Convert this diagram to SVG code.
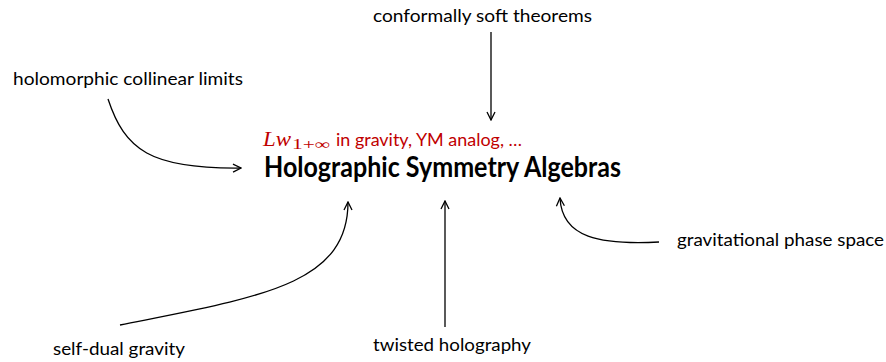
<svg xmlns="http://www.w3.org/2000/svg" width="886" height="362" viewBox="0 0 886 362">
<defs>
<style>
.lbl{font-family:Lato,"Open Sans","Liberation Sans",sans-serif;font-size:18px;fill:#000}
.title{font-family:Lato,"Open Sans","Liberation Sans",sans-serif;font-size:28px;font-weight:bold;fill:#000}
.red{font-family:Lato,"Open Sans","Liberation Sans",sans-serif;font-size:18px;fill:#C00000}
.math{font-family:"Liberation Serif","DejaVu Serif",serif;font-style:italic;font-size:20px;fill:#C00000}
.sub{font-family:"Liberation Serif","DejaVu Serif",serif;font-size:14px;fill:#C00000}
.conn{fill:none;stroke:#000;stroke-width:1.3}
</style>
<marker id="arr" viewBox="0 0 10 10" refX="9" refY="5" markerWidth="10" markerHeight="10" markerUnits="userSpaceOnUse" orient="auto">
<path d="M1,1 L9,5 L1,9" fill="none" stroke="#000" stroke-width="1.3"/>
</marker>
</defs>
<rect width="886" height="362" fill="#fff"/>
<g id="center">
<text class="math" x="263" y="146" textLength="28" lengthAdjust="spacingAndGlyphs">Lw</text>
<text class="sub" x="292" y="149" textLength="38" lengthAdjust="spacingAndGlyphs">1+∞</text>
<text class="red" x="336" y="146" textLength="186" lengthAdjust="spacingAndGlyphs">in gravity, YM analog, …</text>
<text class="title" x="264" y="177" textLength="357" lengthAdjust="spacingAndGlyphs">Holographic Symmetry Algebras</text>
</g>
<g id="n-soft"><text class="lbl" x="373" y="22" textLength="219" lengthAdjust="spacingAndGlyphs">conformally soft theorems</text></g>
<g id="n-holo"><text class="lbl" x="13" y="85" textLength="230" lengthAdjust="spacingAndGlyphs">holomorphic collinear limits</text></g>
<g id="n-grav"><text class="lbl" x="677" y="246" textLength="207" lengthAdjust="spacingAndGlyphs">gravitational phase space</text></g>
<g id="n-sd"><text class="lbl" x="53" y="355" textLength="132" lengthAdjust="spacingAndGlyphs">self-dual gravity</text></g>
<g id="n-tw"><text class="lbl" x="373" y="351" textLength="158" lengthAdjust="spacingAndGlyphs">twisted holography</text></g>
<g id="connectors">
<path class="conn" d="M491,32 L491,120" marker-end="url(#arr)"/>
<path class="conn" d="M108,99 C125,150 150,169 241,168" marker-end="url(#arr)"/>
<path class="conn" d="M659,242 C600,245 562,238 560,198" marker-end="url(#arr)"/>
<path class="conn" d="M120,325 C260,297 348,285 348,202" marker-end="url(#arr)"/>
<path class="conn" d="M445,327 L445,201" marker-end="url(#arr)"/>
</g>
</svg>
